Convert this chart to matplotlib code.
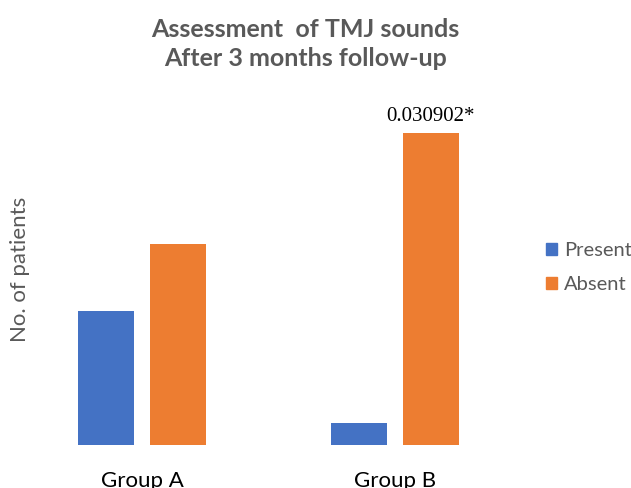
import numpy as np
import matplotlib.pyplot as plt
from matplotlib.patches import Patch

groups = ["Group A", "Group B"]
present = [6, 1]
absent = [9, 14]
p_value = "0.030902*"

blue = "#4472c4"
orange = "#ed7d31"
gray = "#595959"

plt.rcParams["font.family"] = ["Lato", "DejaVu Sans"]

fig = plt.figure(figsize=(6.31, 4.88), dpi=100)
ax = fig.add_axes([0.0246, 0.0881, 0.8019, 0.7316])

x = np.arange(len(groups))
w = 0.221
off = 0.142
ax.bar(x - off, present, w, color=blue, label="Present")
ax.bar(x + off, absent, w, color=orange, label="Absent")

ax.text(x[1] + off, absent[1] + 0.3, p_value, ha="center", va="bottom",
        fontsize=15, family="Liberation Serif", color="black")

ax.set_xlim(-0.5, 1.5)
ax.set_ylim(0, 16)
ax.set_xticks(x)
ax.set_xticklabels(groups, fontsize=16, color="black")
ax.tick_params(axis="x", length=0, pad=19)
ax.set_yticks([])
for s in ax.spines.values():
    s.set_visible(False)

fig.text(0.031, 0.447, "No. of patients", rotation=90, ha="center", va="center",
         fontsize=16, color=gray)

fig.text(0.484, 0.91, "Assessment  of TMJ sounds\nAfter 3 months follow-up",
         ha="center", va="center", fontsize=18, fontweight="bold", color=gray,
         linespacing=1.3)

handles = [Patch(color=blue, label="Present"), Patch(color=orange, label="Absent")]
fig.legend(handles=handles, loc="center left", bbox_to_anchor=(0.865, 0.452),
           frameon=False, fontsize=14.5, handlelength=0.55, handleheight=0.55,
           handletextpad=0.35, labelspacing=0.85, labelcolor=gray,
           borderpad=0, borderaxespad=0)

fig.savefig("out.png", dpi=100)
